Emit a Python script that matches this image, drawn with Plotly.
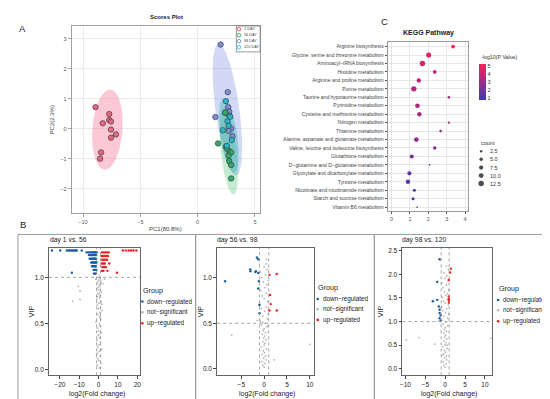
import math
import plotly.graph_objects as go

W, H = 550, 399
FONT = "Liberation Sans"

# ---------------- Panel A : PCA scores ----------------
pca_groups = ["1 DAY", "56 DAY", "98 DAY", "120 DAY"]
pc1_day1 = [-8.91, -7.71, -7.71, -7.56, -8.28, -7.13, -7.56, -7.56, -8.42, -8.51]
pc2_day1 = [0.72, 0.49, 0.29, 0.24, 0.18, -0.19, -0.03, -0.30, -0.79, -1.00]
pc1_day56 = [1.78, 2.47, 2.76, 2.93, 2.70, 2.76, 2.93, 2.93, 2.55, 2.41]
pc2_day56 = [-0.49, -0.60, -0.75, -0.79, -0.90, -1.08, -1.21, -1.66, -0.66, 0.54]
pc1_day98 = [2.01, 2.63, 2.67, 2.76, 1.55, 2.93, 3.04, 2.70, 2.41]
pc2_day98 = [2.81, 1.22, 0.72, 0.57, 0.39, 0.01, -0.25, -0.07, 0.53]
pc1_day120 = [2.47, 2.76, 2.61, 2.70, 2.21, 2.98, 2.55, 2.84]
pc2_day120 = [0.92, 0.43, 0.25, 0.10, -0.05, -0.38, -0.57, 0.40]

# confidence ellipses: centre, major semi-axis vector, horizontal half width
ell_cx = [-7.87, 2.60, 2.72, 2.72]
ell_cy = [-0.03, 0.63, -0.75, -0.23]
ell_ux = [0.22, -0.75, -0.41, -0.45]
ell_uy = [1.34, 2.20, 1.45, 1.24]
ell_w = [1.32, 1.05, 0.70, 0.75]
ell_fill = ["rgba(244,120,150,0.40)", "rgba(125,145,225,0.35)",
            "rgba(110,205,140,0.40)", "rgba(40,175,190,0.35)"]

pca_pt_colors = ["#E5667F", "#35A86C", "#7D8ED8", "#2AB4C8"]
pca_leg_colors = ["#F0506E", "#2EAA50", "#6F80E0", "#20C6E0"]

# ---------------- Panel C : KEGG ----------------
kegg_pathways = [
    "Arginine biosynthesis",
    "Glycine, serine and threonine metabolism",
    "Aminoacyl\u2212tRNA biosynthesis",
    "Histidine metabolism",
    "Arginine and proline metabolism",
    "Purine metabolism",
    "Taurine and hypotaurine metabolism",
    "Pyrimidine metabolism",
    "Cysteine and methionine metabolism",
    "Nitrogen metabolism",
    "Thiamine metabolism",
    "Alanine, aspartate and glutamate metabolism",
    "Valine, leucine and isoleucine biosynthesis",
    "Glutathione metabolism",
    "D\u2212glutamine and D\u2212glutamate metabolism",
    "Glyoxylate and dicarboxylate metabolism",
    "Tyrosine metabolism",
    "Nicotinate and nicotinamide metabolism",
    "Starch and sucrose metabolism",
    "Vitamin B6 metabolism",
]
kegg_x = [3.35, 2.02, 1.68, 2.35, 1.48, 1.21, 3.12, 1.41, 1.51, 3.12,
          2.67, 1.35, 2.35, 1.10, 2.07, 0.97, 0.89, 1.24, 1.17, 1.39]
kegg_logp = [5.2, 4.6, 4.5, 3.6, 3.5, 3.4, 3.1, 3.3, 3.2, 2.9,
             2.8, 2.7, 2.5, 2.2, 2.0, 1.8, 1.5, 1.3, 1.1, 0.85]
kegg_count = [6, 11, 12, 6, 8, 12, 3, 9, 8, 2, 3, 9, 5, 7, 1, 7, 8, 4, 4, 1]
count_legend = [2.5, 5.0, 7.5, 10.0, 12.5]
count_legend_labels = ["2.5", "5.0", "7.5", "10.0", "12.5"]
kegg_colorscale = [[0, "#3B3BB5"], [1, "#FF1F5A"]]

# ---------------- Panel B : volcano plots ----------------
v_titles = ["day 1 vs. 56", "day 56 vs. 98", "day 98 vs. 120"]
v_vip_cut = [1.0, 0.5, 1.0]
group_names = ["down\u2212regulated", "not\u2212significant", "up\u2212regulated"]

# day 1 vs 56
v1_down_x = [-24.1, -19.8, -16.4, -15.5, -14.8, -14.0, -13.2, -12.5, -11.8, -11.3, -8.7, -13.8,
             -6.2, -5.5, -4.8, -4.2, -3.6, -3.1, -2.6, -2.2, -1.8, -1.4, -1.0,
             -5.0, -4.4, -3.9, -3.3, -2.9, -2.4, -2.0, -1.6, -1.2,
             -4.6, -4.0, -3.5, -3.0, -2.5, -2.1, -1.7, -1.3,
             -3.8, -3.2, -2.7, -2.3, -1.9, -1.5, -1.1,
             -3.4, -2.8, -2.2, -1.8, -1.4,
             -2.6, -2.0, -1.6, -1.2,
             -2.4, -1.9, -1.5]
v1_down_y = [1.29, 1.29, 1.29, 1.29, 1.29, 1.29, 1.29, 1.29, 1.29, 1.29, 1.29, 1.05,
             1.27, 1.27, 1.27, 1.27, 1.27, 1.27, 1.27, 1.27, 1.27, 1.27, 1.27,
             1.24, 1.24, 1.24, 1.24, 1.24, 1.24, 1.24, 1.24, 1.24,
             1.20, 1.20, 1.20, 1.20, 1.20, 1.20, 1.20, 1.20,
             1.16, 1.16, 1.16, 1.16, 1.16, 1.16, 1.16,
             1.12, 1.12, 1.12, 1.12, 1.12,
             1.08, 1.08, 1.08, 1.08,
             1.04, 1.04, 1.04]
v1_up_x = [12.5, 14.0, 15.5, 16.8, 18.0, 19.5, 9.5,
           1.8, 2.6, 3.4, 4.3, 5.2,
           1.5, 2.3, 3.0, 3.9, 4.8,
           1.9, 2.7, 3.5, 4.4,
           1.6, 2.4, 3.2, 5.5,
           2.0, 2.9, 3.8,
           1.7, 2.5, 4.6]
v1_up_y = [1.29, 1.29, 1.29, 1.29, 1.29, 1.29, 1.05,
           1.27, 1.27, 1.27, 1.27, 1.27,
           1.23, 1.23, 1.23, 1.23, 1.23,
           1.19, 1.19, 1.19, 1.19,
           1.15, 1.15, 1.15, 1.15,
           1.11, 1.11, 1.11,
           1.07, 1.07, 1.07]
v1_ns_x = [0.5, -0.8, 1.2, 0.1, -0.3, 0.9, -1.1, 0.4, 1.6, -0.5, 0.2, 1.0, -0.9, 0.6, -0.2, 1.4, 0.0, -0.6, 0.8, 0.3,
           -1.3, 1.1, 0.5, -0.4, 0.7, 1.8, -0.1, 0.9, -0.7, 0.2, 1.3, -0.9, 0.4, 0.6, -0.3, 1.5, 0.1, -1.0, 0.8, 0.3,
           2.2, -0.5, 1.0, 0.0, -1.4, 0.7, 1.2, -0.2, 0.5, -0.8, 0.9, 0.2, -0.6, 1.7, 0.4,
           -13.3, -9.6, -9.6, -10.5, 3.0]
v1_ns_y = [0.02, 0.05, 0.07, 0.10, 0.12, 0.15, 0.17, 0.20, 0.22, 0.25, 0.27, 0.30, 0.32, 0.35, 0.37, 0.40, 0.42, 0.45, 0.47, 0.50,
           0.52, 0.55, 0.57, 0.60, 0.62, 0.64, 0.66, 0.68, 0.70, 0.72, 0.74, 0.76, 0.78, 0.80, 0.82, 0.84, 0.86, 0.88, 0.90, 0.92,
           0.93, 0.95, 0.96, 0.97, 0.98, 0.99, 0.94, 0.89, 0.83, 0.79, 0.58, 0.38, 0.18, 0.71, 1.02,
           0.74, 0.85, 0.76, 0.90, 0.98]

# day 56 vs 98
v2_down_x = [-8.55, -3.04, -3.0, -1.59, -1.30, -1.96, -1.30, -1.15, -1.30, -1.02, -1.02, -1.80]
v2_down_y = [0.96, 1.09, 1.07, 1.22, 1.20, 1.06, 1.05, 0.96, 0.88, 0.70, 0.61, 1.07]
v2_up_x = [2.76, 1.16, 1.30, 1.45, 2.76, 1.16]
v2_up_y = [1.04, 1.03, 0.81, 0.71, 0.64, 0.64]
v2_ns_x = [0.0, -0.3, 0.2, -0.5, 0.4, -0.1, 0.3, -0.4, 0.1, -0.2, 0.5, -0.6, 0.0, 0.2, -0.3, 0.4, -0.1, 0.1, -0.4, 0.3,
           -0.2, 0.0, 0.6, -0.5, 0.2, -0.8, 0.7, -0.3, 0.9, 0.1, -0.6, 0.4, -0.9, 0.8, 0.0, -0.4, 0.5, -0.7, 0.2, 0.6,
           -0.2, 0.9, -0.5, 0.3, -0.8, 0.7, 0.0, 0.4, -0.3, 0.8, -7.1, 10.0, 2.2, -1.5, 0.5]
v2_ns_y = [0.02, 0.04, 0.06, 0.08, 0.10, 0.12, 0.14, 0.16, 0.18, 0.20, 0.22, 0.24, 0.26, 0.28, 0.30, 0.32, 0.34, 0.36, 0.38, 0.40,
           0.42, 0.44, 0.46, 0.48, 0.50, 0.52, 0.55, 0.58, 0.60, 0.63, 0.66, 0.68, 0.71, 0.74, 0.77, 0.80, 0.83, 0.86, 0.89, 0.92,
           0.95, 0.97, 1.00, 1.03, 1.06, 1.09, 1.12, 1.15, 0.51, 0.47, 0.37, 0.27, 0.10, 0.53, 1.20]

# day 98 vs 120
v3_down_x = [-1.4, -2.0, -2.0, -3.1, -1.6, -1.4, -1.4, -1.15, -1.4, -1.15]
v3_down_y = [2.32, 1.84, 1.46, 1.43, 1.32, 1.25, 1.18, 1.13, 1.07, 1.02]
v3_up_x = [1.43, 1.25, 0.93, 0.93, 0.93, 0.93, 0.93]
v3_up_y = [2.12, 2.04, 1.88, 1.53, 1.48, 1.44, 1.40]
v3_ns_x = [0.0, -0.3, 0.2, -0.5, 0.4, -0.1, 0.3, -0.4, 0.1, -0.2, 0.5, -0.6, 0.0, 0.2, -0.3, 0.4, -0.1, 0.1, -0.4, 0.3,
           -0.2, 0.0, 0.6, -0.5, 0.2, -0.8, 0.7, -0.3, 0.9, 0.1, -0.6, 0.4, -0.9, 0.8, 0.0, -0.4, 0.5, -0.7, 0.2, 0.6,
           -0.2, 0.9, -0.5, 0.3, -0.8, 0.7, 0.0, 0.4, -0.3, 0.8, -9.75, -6.6, -2.65, 11.5, 0.3, -0.6, 0.5]
v3_ns_y = [0.03, 0.07, 0.11, 0.15, 0.19, 0.23, 0.27, 0.31, 0.35, 0.39, 0.43, 0.47, 0.51, 0.55, 0.59, 0.63, 0.67, 0.71, 0.75, 0.79,
           0.83, 0.87, 0.91, 0.95, 0.99, 1.03, 1.07, 1.11, 1.15, 1.19, 1.23, 1.27, 1.31, 1.35, 1.39, 1.43, 1.47, 1.51, 1.55, 1.59,
           1.63, 1.67, 1.72, 1.77, 1.82, 1.87, 1.92, 1.97, 2.03, 2.10, 0.61, 0.66, 0.52, 0.65, 2.18, 0.30, 0.50]

v_x_ticks = [[-20, -10, 0, 10, 20], [-5, 0, 5, 10], [-10, -5, 0, 5, 10]]
v_y_ticks = [[0.0, 0.5, 1.0], [0.0, 0.5, 1.0], [0.0, 0.5, 1.0, 1.5, 2.0, 2.5]]
grp_colors = ["#1F5C9E", "#B5B5B5", "#F01E1E"]

# ---------------- layout geometry (pixels) ----------------
def xd(l, r):
    return [l / W, r / W]

def yd(t, b):
    return [1 - b / H, 1 - t / H]

fig = go.Figure()

# ---- Panel A traces ----
pca_x = [pc1_day1, pc1_day56, pc1_day98, pc1_day120]
pca_y = [pc2_day1, pc2_day56, pc2_day98, pc2_day120]
ts = [2 * math.pi * k / 90 for k in range(91)]
for k in range(4):
    ex = [ell_cx[k] + ell_ux[k] * math.cos(t) + ell_w[k] * math.sin(t) for t in ts]
    ey = [ell_cy[k] + ell_uy[k] * math.cos(t) for t in ts]
    fig.add_trace(go.Scatter(x=ex, y=ey, mode="lines", fill="toself", fillcolor=ell_fill[k],
                             line=dict(width=0), hoverinfo="skip", showlegend=False,
                             xaxis="x", yaxis="y"))
for g in [0, 2, 1, 3]:
    fig.add_trace(go.Scatter(x=pca_x[g], y=pca_y[g], mode="markers", showlegend=False,
                             marker=dict(size=5.5, color=pca_pt_colors[g],
                                         line=dict(color="#333333", width=0.6)),
                             xaxis="x", yaxis="y"))

# ---- Panel C trace ----
kegg_sizes = [1.55 * math.sqrt(c) for c in kegg_count]
fig.add_trace(go.Scatter(
    x=kegg_x, y=list(range(len(kegg_pathways))), mode="markers", showlegend=False,
    marker=dict(size=kegg_sizes, color=kegg_logp, colorscale=kegg_colorscale,
                cmin=0.8, cmax=5.3, line=dict(width=0), opacity=1,
                showscale=True,
                colorbar=dict(x=471.7 / W, xanchor="left", y=1 - 72.9 / H, yanchor="middle",
                              len=35.7, lenmode="pixels", thickness=6.6, thicknessmode="pixels",
                              tickvals=[1, 2, 3, 4, 5], ticks="", outlinewidth=0,
                              xpad=0, ypad=0, ticklabelposition="outside",
                              tickfont=dict(size=5.5, color="#333", family=FONT))),
    xaxis="x2", yaxis="y2"))

# ---- Panel B traces ----
vx = [[v1_down_x, v1_ns_x, v1_up_x], [v2_down_x, v2_ns_x, v2_up_x], [v3_down_x, v3_ns_x, v3_up_x]]
vy = [[v1_down_y, v1_ns_y, v1_up_y], [v2_down_y, v2_ns_y, v2_up_y], [v3_down_y, v3_ns_y, v3_up_y]]
for p in range(3):
    for gi in [1, 0, 2]:
        fig.add_trace(go.Scatter(x=vx[p][gi], y=vy[p][gi], mode="markers", showlegend=False,
                                 marker=dict(size=1.8 if gi == 1 else 2.4, color=grp_colors[gi],
                                             line=dict(width=0)),
                                 xaxis="x%d" % (p + 3), yaxis="y%d" % (p + 3)))

# ---- overlay pixel axis: legends ----
leg_y = [20.3, 26.3, 32.3, 38.4]
fig.add_trace(go.Scatter(x=[229.6] * 4, y=leg_y, mode="markers", showlegend=False,
                         marker=dict(symbol="circle-open", size=3.6, color=pca_leg_colors,
                                     line=dict(width=0.9)),
                         xaxis="x6", yaxis="y6"))
cnt_y = [142.7, 150.7, 159.0, 167.0, 175.0]
fig.add_trace(go.Scatter(x=[473.6] * 5, y=cnt_y, mode="markers", showlegend=False,
                         marker=dict(size=[1.55 * math.sqrt(c) for c in count_legend], color="black",
                                     line=dict(width=0)),
                         xaxis="x6", yaxis="y6"))
vleg_x = [132.3, 309.0, 490.7]
vleg_title_y = [282.3, 279.3, 280.0]
vleg_rows = [[293.3, 304.0, 315.0], [290.7, 301.0, 311.7], [291.7, 302.0, 313.0]]
for p in range(3):
    fig.add_trace(go.Scatter(x=[vleg_x[p]] * 3, y=vleg_rows[p], mode="markers", showlegend=False,
                             marker=dict(size=2.6, color=grp_colors, line=dict(width=0)),
                             xaxis="x6", yaxis="y6"))

# ---------------- axes ----------------
base_ax = dict(showline=True, mirror=True, zeroline=False, ticks="outside")
layout = dict(
    width=W, height=H, margin=dict(l=0, r=0, t=0, b=0),
    paper_bgcolor="white", plot_bgcolor="rgba(0,0,0,0)",
    font=dict(family=FONT, color="#333"),
    showlegend=False,
)
layout["xaxis"] = dict(base_ax, domain=xd(61, 251), range=[-11.0, 5.46], tickvals=[-10, -5, 0, 5],
                       showgrid=True, gridcolor="#ebebeb", gridwidth=0.6, linecolor="#a0a0a0",
                       linewidth=0.8, ticklen=3, tickcolor="#a0a0a0",
                       tickfont=dict(size=5.5, color="#555"), anchor="y")
layout["yaxis"] = dict(base_ax, domain=yd(17, 205), range=[-2.83, 3.43], tickvals=[-2, -1, 0, 1, 2, 3],
                       showgrid=True, gridcolor="#ebebeb", gridwidth=0.6, linecolor="#a0a0a0",
                       linewidth=0.8, ticklen=3, tickcolor="#a0a0a0",
                       tickfont=dict(size=5.5, color="#555"), anchor="x")
layout["xaxis2"] = dict(base_ax, domain=xd(379.3, 460.7), range=[-0.22, 4.18], tickvals=[0, 1, 2, 3, 4],
                        showgrid=True, gridcolor="#e6e6e6", gridwidth=0.6, linecolor="#999",
                        linewidth=0.8, ticklen=2, tickcolor="#555",
                        tickfont=dict(size=5.5, color="#555"), anchor="y2")
layout["yaxis2"] = dict(base_ax, domain=yd(32.7, 202.7), range=[19.48, -0.59],
                        tickvals=list(range(len(kegg_pathways))), ticktext=kegg_pathways,
                        showgrid=True, gridcolor="#e6e6e6", gridwidth=0.6, linecolor="#999",
                        linewidth=0.8, ticklen=2, tickcolor="#555",
                        tickfont=dict(size=5, color="#444"), anchor="x2")

v_dom_x = [(38.3, 130.0), (207.7, 305.0), (394.3, 485.0)]
v_xrange = [[-25.6, 21.4], [-10.28, 10.87], [-10.75, 11.9]]
v_yrange = [[-0.06, 1.318], [-0.07, 1.325], [-0.14, 2.56]]
for p in range(3):
    n = p + 3
    layout["xaxis%d" % n] = dict(base_ax, domain=xd(*v_dom_x[p]), range=v_xrange[p],
                                 tickvals=v_x_ticks[p], showgrid=False, linecolor="#666",
                                 linewidth=0.8, ticklen=3, tickcolor="#444",
                                 tickfont=dict(size=6.5, color="#222"), anchor="y%d" % n)
    layout["yaxis%d" % n] = dict(base_ax, domain=yd(239.5, 367.3), range=v_yrange[p],
                                 tickvals=v_y_ticks[p], tickformat=".1f", showgrid=False,
                                 linecolor="#666", linewidth=0.8, ticklen=3, tickcolor="#444",
                                 tickfont=dict(size=6.5, color="#222"), anchor="x%d" % n)
layout["xaxis6"] = dict(domain=[0, 1], range=[0, W], visible=False, fixedrange=True, anchor="y6")
layout["yaxis6"] = dict(domain=[0, 1], range=[H, 0], visible=False, fixedrange=True, anchor="x6")

# ---------------- shapes ----------------
shapes = []
for (l, r) in [(7, 186), (186, 366), (366, 546)]:
    shapes.append(dict(type="rect", xref="x6", yref="y6", x0=l, x1=r, y0=226, y1=393,
                       line=dict(color="#9a9a9a", width=1)))
shapes.append(dict(type="rect", xref="x6", yref="y6", x0=227, x1=251, y0=17, y1=43,
                   line=dict(color="#555", width=0.6), fillcolor="white", layer="below"))
for p in range(3):
    n = p + 3
    for xv in [-1, 1]:
        shapes.append(dict(type="line", xref="x%d" % n, yref="y%d domain" % n, x0=xv, x1=xv, y0=0, y1=1,
                           line=dict(color="#8a8a8a", width=0.8, dash="dot")))
    shapes.append(dict(type="line", xref="x%d domain" % n, yref="y%d" % n, x0=0, x1=1,
                       y0=v_vip_cut[p], y1=v_vip_cut[p],
                       line=dict(color="#8a8a8a", width=0.8, dash="dot")))
layout["shapes"] = shapes

# ---------------- annotations ----------------
anns = []

def ann(x, y, text, size, xanchor="center", color="#222", angle=0, bold=False):
    anns.append(dict(x=x, y=y, xref="x6", yref="y6", text=("<b>%s</b>" % text) if bold else text,
                     showarrow=False, xanchor=xanchor, yanchor="middle", textangle=angle,
                     font=dict(size=size, color=color, family=FONT)))

ann(12, 20, "A", 9.5, color="#222")
ann(12, 216, "B", 9.5, color="#222")
ann(376, 13, "C", 9.5, color="#222")
ann(157, 8.3, "Scores Plot", 6, bold=True)
ann(156, 221, "PC1(80.8%)", 6, color="#444")
ann(41, 111, "PC2(2.3%)", 6, color="#444", angle=-90)
for k, g in enumerate(pca_groups):
    ann(232.4, leg_y[k], g, 3.8, xanchor="left", color="#444")
ann(420.3, 24.3, "KEGG Pathway", 7, bold=True)
ann(471.5, 48.3, "-log10(P Value)", 5.3, xanchor="left", color="#333")
ann(471.5, 134.3, "count", 5.5, xanchor="left", color="#333")
for k, t in enumerate(count_legend_labels):
    ann(480.5, cnt_y[k], t, 5.5, xanchor="left", color="#333")

v_title_x = [37.0, 205.0, 392.0]
v_vip_x = [20.7, 191.0, 372.3]
for p in range(3):
    ann(v_title_x[p], 231.3, v_titles[p], 6.8, xanchor="left")
    cx = (v_dom_x[p][0] + v_dom_x[p][1]) / 2 + 2
    ann(cx, 385.7, "log2(Fold change)", 7)
    ann(v_vip_x[p], 303.4, "VIP", 7, angle=-90)
    ann(vleg_x[p] - 1.6, vleg_title_y[p], "Group", 7.2, xanchor="left")
    for r in range(3):
        ann(vleg_x[p] + 3.0, vleg_rows[p][r], group_names[r], 6.3, xanchor="left")
layout["annotations"] = anns

fig.update_layout(**layout)
fig.write_html("out.html")
